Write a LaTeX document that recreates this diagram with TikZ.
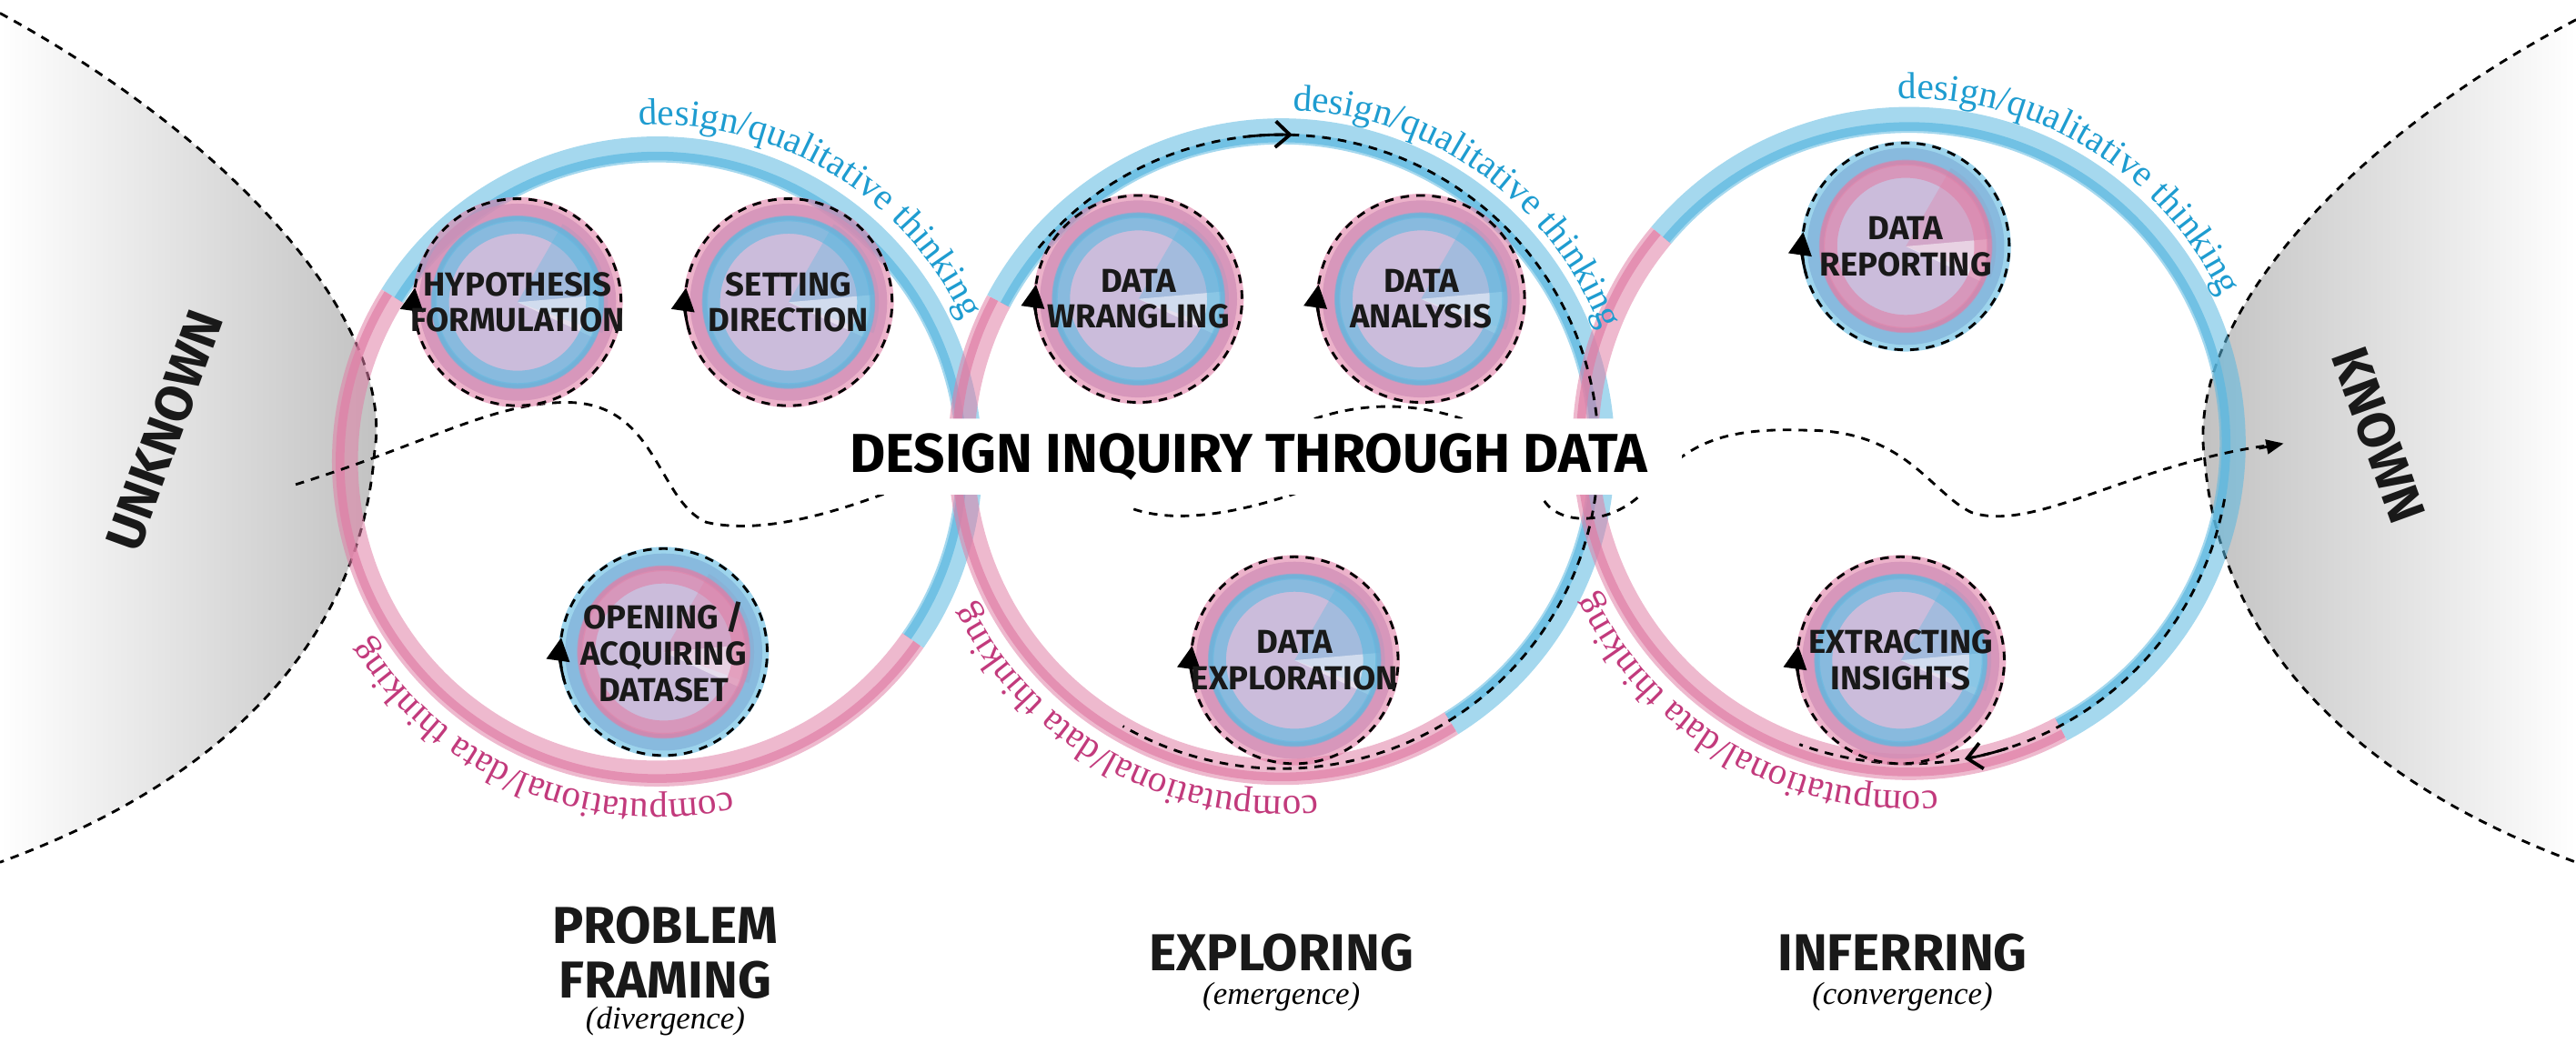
\documentclass[tikz,border=0pt]{standalone}
\usepackage{fontspec}
\setsansfont{Fira Sans}
\setmainfont{Liberation Serif}
\usetikzlibrary{arrows.meta,decorations.text,calc}
\definecolor{cb}{HTML}{5BB8E0}
\definecolor{cp}{HTML}{E07FA6}
\definecolor{tb}{HTML}{1E9CD0}
\definecolor{tp}{HTML}{C23A7C}
\definecolor{cv}{HTML}{B9A6CF}
\tikzset{
 bandB/.style={draw=cb,line width=9,opacity=.55},
 bandP/.style={draw=cp,line width=9,opacity=.55},
 thinB/.style={draw=cb,line width=3,opacity=.7},
 thinP/.style={draw=cp,line width=3,opacity=.7},
 dsh/.style={draw=black,dashed,line width=0.9pt,dash pattern=on 3pt off 2.5pt},
 lbl/.style={font=\sffamily\bfseries\fontsize{11.5}{12.5}\selectfont,align=center,text=black!90},
 big/.style={font=\sffamily\bfseries\fontsize{18}{19}\selectfont,align=center,text=black!90},
 ital/.style={font=\itshape\fontsize{11}{12}\selectfont},
 chev/.style={-{Straight Barb[length=5pt,width=9pt,line width=1.2pt]},line width=0.9pt},
}
\newcommand\myarctext[6]{% center, r, a1, a2, color, text
 \path[decorate,decoration={text along path,text align=center,text format delimiters={|}{|},
   text={|\color{#5}\fontsize{13}{14}\selectfont|#6}}] ($(#1)+(#3:#2)$) arc (#3:#4:#2);}
\newcommand\mysmall[6]{% name, x, y, outer col, inner col, label
 \coordinate (#1c) at (#2,-#3);
 \fill[cv,opacity=.75] (#1c) circle (60);
 \fill[#5,opacity=.35] (#1c) -- ++(60:55) arc (60:-20:55) -- cycle;
 \fill[white,opacity=.5] (#1c) -- ++(5:52) arc (5:-25:52) -- cycle;
 \draw[#4,line width=8,opacity=.6] (#1c) circle (57);
 \draw[#5,line width=6,opacity=.6] (#1c) circle (47);
 \draw[#5,line width=2,opacity=.5] (#1c) circle (51);
 \draw[dsh] (#1c) circle (63);
 \draw[-{Triangle[length=8pt,width=8pt]},line width=0.9pt] ($(#1c)+(196:63)$) arc (196:172:63);
 \node[lbl] (#1) at (#1c) {#6};}
\begin{document}
\begin{tikzpicture}[x=0.02cm,y=0.02cm]
\useasboundingbox (0,0) rectangle (1568,-647);
% grey regions
\shade[left color=white,right color=black!25] (0,-8) .. controls (150,-90) and (240,-200) .. (228,-275) .. controls (220,-380) and (150,-470) .. (0,-525) -- cycle;
\draw[dsh] (0,-8) .. controls (150,-90) and (240,-200) .. (228,-275) .. controls (220,-380) and (150,-470) .. (0,-525);
\shade[right color=white,left color=black!25] (1568,-12) .. controls (1420,-90) and (1330,-200) .. (1342,-280) .. controls (1350,-380) and (1420,-470) .. (1568,-525) -- cycle;
\draw[dsh] (1568,-12) .. controls (1420,-90) and (1330,-200) .. (1342,-280) .. controls (1350,-380) and (1420,-470) .. (1568,-525);
\node[big,rotate=70] (unk) at (100,-262) {UNKNOWN};
\node[big,rotate=-70] (kn) at (1448,-265) {KNOWN};
% big circles
\coordinate (c1) at (400,-281);
\coordinate (c2) at (780,-275);
\coordinate (c3) at (1162,-270);
\foreach \c/\r/\a/\b in {c1/190/148/-35, c2/195/152/-58, c3/197/140/-62}{
 \draw[bandB] ($(\c)+(\a:\r)$) arc (\a:\b:\r);
 \draw[thinB] ($(\c)+(\a:\r-4)$) arc (\a:\b:\r-4);
 \draw[bandP] ($(\c)+(\b:\r)$) arc (\b:\a-360:\r);
 \draw[thinP] ($(\c)+(\b:\r+3)$) arc (\b:\a-360:\r+3);
}
% dashed paths on circles
\draw[dsh] ($(c2)+(140:193)$) arc (140:-5:193);
\draw[chev] ($(c2)+(96:193)$) arc (96:88:193);
\draw[dsh] ($(c2)+(-5:193)$) arc (-5:-120:193);
\draw[dsh] ($(c3)+(-10:195)$) arc (-10:-110:195);
\draw[chev] ($(c3)+(-72:195)$) arc (-72:-80:195);
% arc texts
\myarctext{c1}{205}{94}{24}{tb}{design/qualitative thinking}
\myarctext{c2}{208}{97}{12}{tb}{design/qualitative thinking}
\myarctext{c3}{210}{97}{20}{tb}{design/qualitative thinking}
\myarctext{c1}{206}{-66}{-160}{tp}{computational/data thinking}
\myarctext{c2}{210}{-78}{-160}{tp}{computational/data thinking}
\myarctext{c3}{212}{-78}{-162}{tp}{computational/data thinking}
% wavy dashed line
\coordinate (ws) at (180,-295);
\coordinate (we) at (1390,-270);
\draw[dsh] (ws) .. controls (260,-270) and (300,-245) .. (345,-245) .. controls (400,-245) and (400,-305) .. (430,-318) .. controls (460,-325) and (500,-315) .. (540,-300) -- (1010,-290) .. controls (1030,-270) and (1050,-260) .. (1100,-262) .. controls (1160,-262) and (1175,-300) .. (1200,-312) .. controls (1240,-325) and (1300,-280) .. (we);
\draw[-{Triangle[length=6pt,width=5pt]},line width=0.9pt] (1375,-273) -- (we);
\draw[dsh] (690,-310) .. controls (720,-320) and (760,-310) .. (790,-300);
\draw[dsh] (800,-255) .. controls (830,-245) and (860,-245) .. (890,-255);
\draw[dsh] (940,-305) .. controls (950,-320) and (980,-320) .. (1000,-300);
% small circles
\mysmall{hyp}{315}{184}{cp}{cb}{HYPOTHESIS\\FORMULATION}
\mysmall{set}{480}{184}{cp}{cb}{SETTING\\DIRECTION}
\mysmall{ope}{404}{397}{cb}{cp}{OPENING /\\ACQUIRING\\DATASET}
\mysmall{wra}{693}{182}{cp}{cb}{DATA\\WRANGLING}
\mysmall{ana}{865}{182}{cp}{cb}{DATA\\ANALYSIS}
\mysmall{exp}{788}{402}{cp}{cb}{DATA\\EXPLORATION}
\mysmall{rep}{1160}{150}{cb}{cp}{DATA\\REPORTING}
\mysmall{ext}{1157}{402}{cp}{cb}{EXTRACTING\\INSIGHTS}
% centre title
\node[fill=white,rounded corners=12,inner xsep=12,inner ysep=5,font=\sffamily\bfseries\fontsize{19}{20}\selectfont] (title) at (760,-278) {DESIGN INQUIRY THROUGH DATA};
% bottom labels
\node[big] (pf) at (405,-580) {PROBLEM\\FRAMING};
\node[ital] (pfi) at (405,-622) {(divergence)};
\node[big] (ex) at (780,-580) {EXPLORING};
\node[ital] (exi) at (780,-607) {(emergence)};
\node[big] (inf) at (1158,-580) {INFERRING};
\node[ital] (infi) at (1158,-607) {(convergence)};
\end{tikzpicture}
\end{document}
